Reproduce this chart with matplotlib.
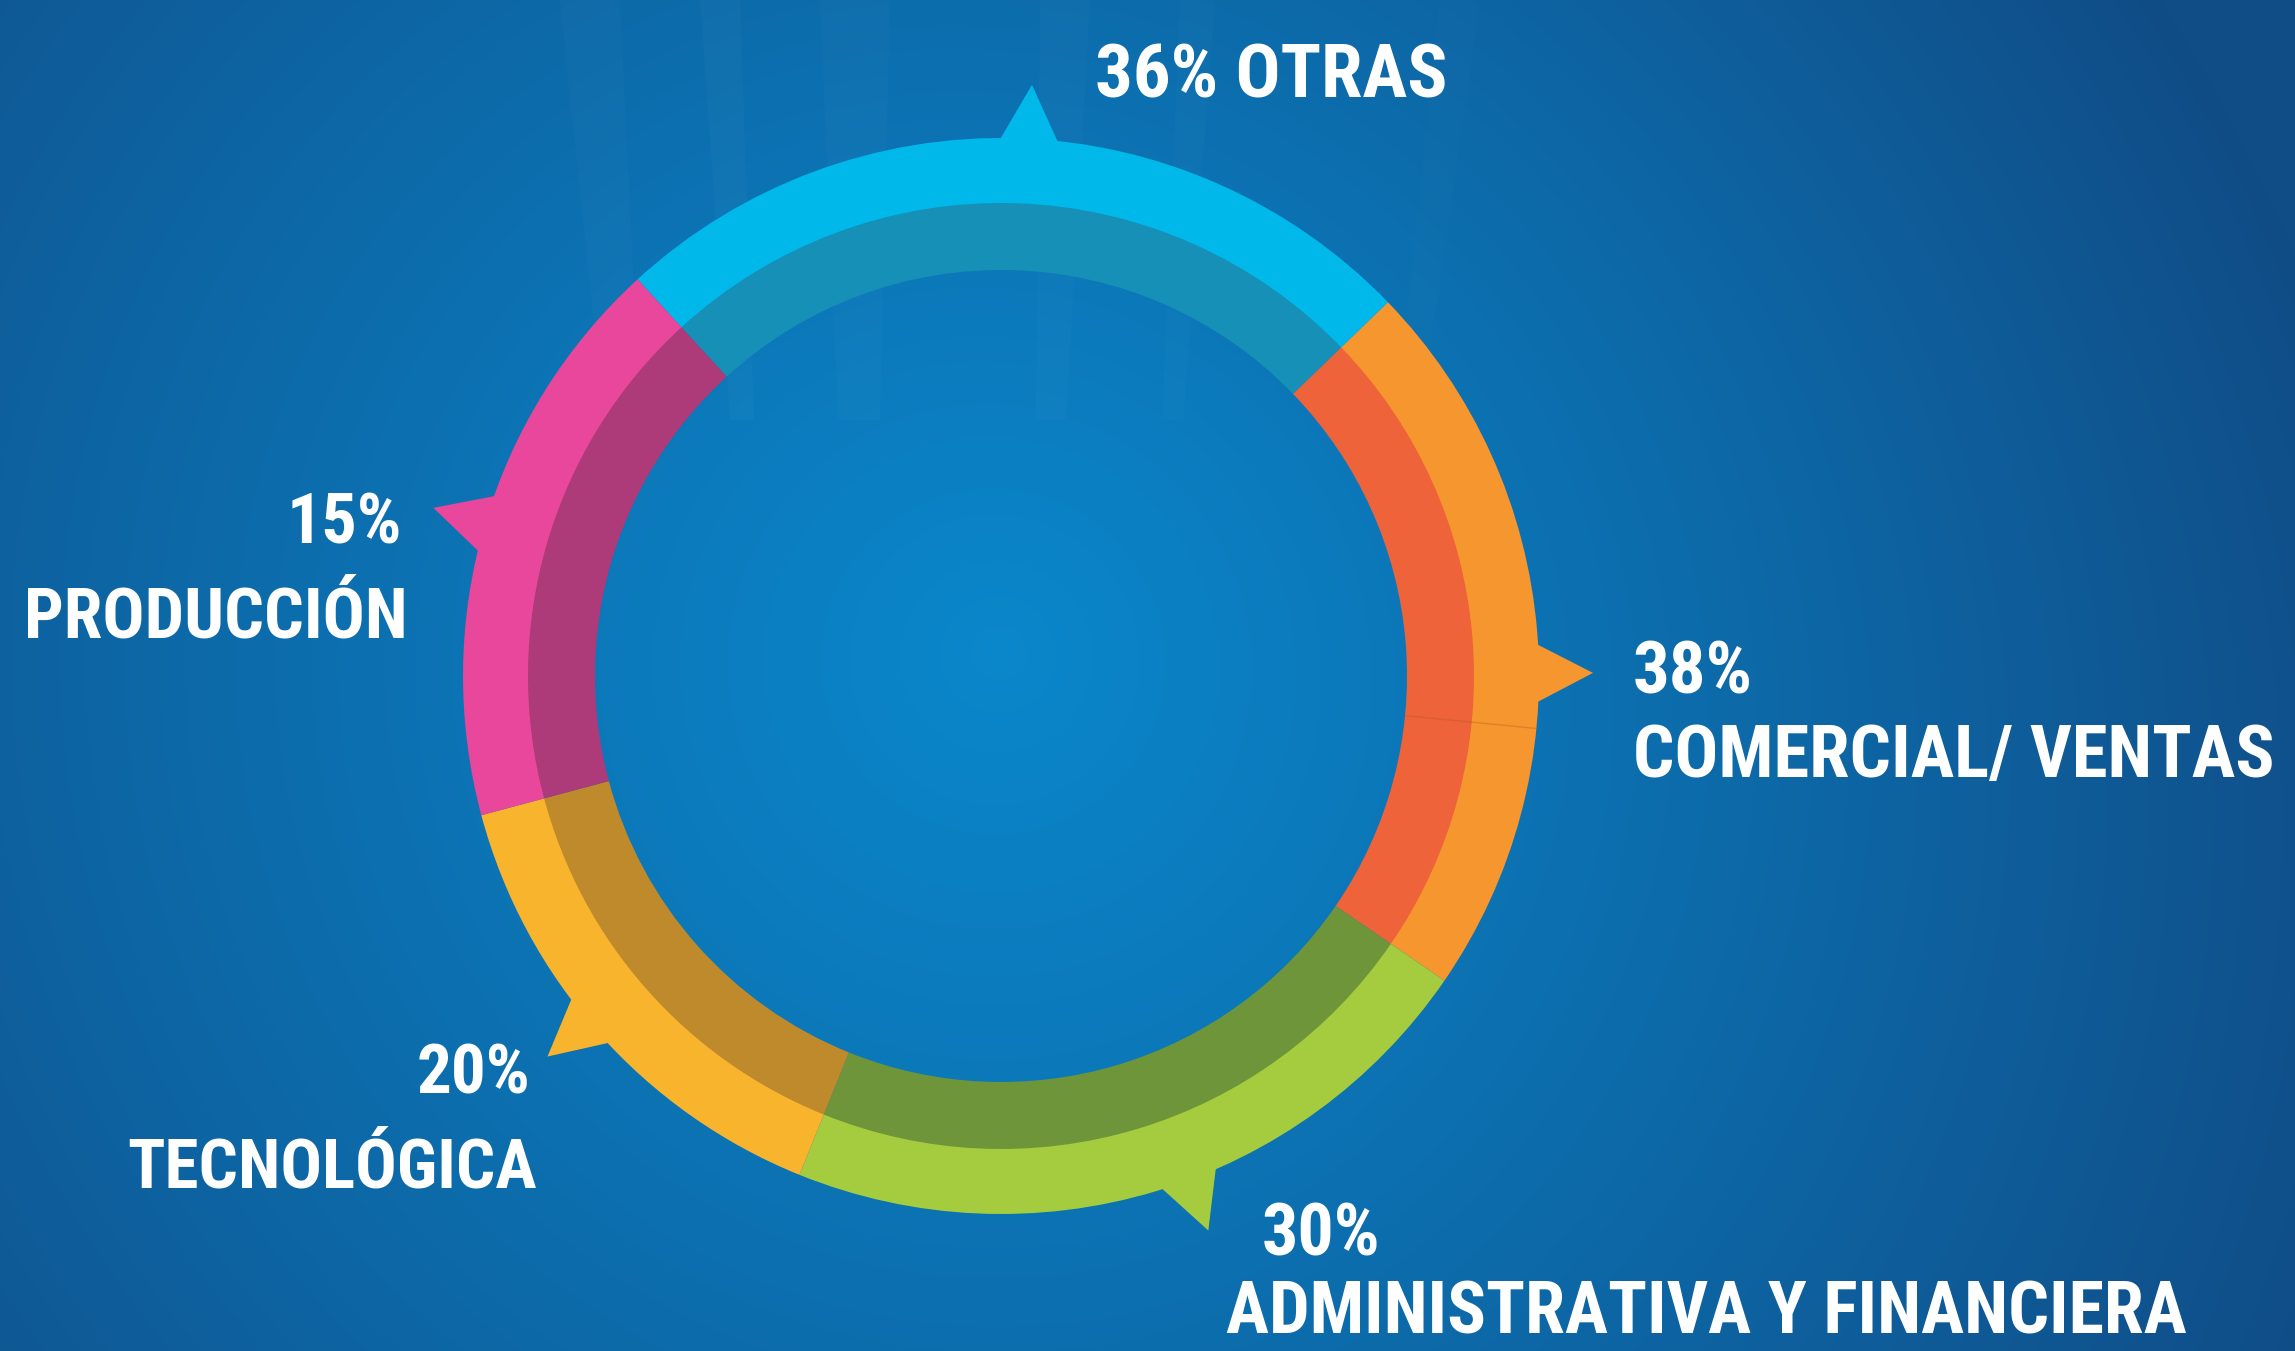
import os
import numpy as np
import matplotlib
matplotlib.use("Agg")
import matplotlib.pyplot as plt
from matplotlib.patches import Wedge, Polygon
from matplotlib import font_manager as fm

# --- data ---
categories = ["OTRAS", "COMERCIAL/ VENTAS", "ADMINISTRATIVA Y FINANCIERA",
              "TECNOLÓGICA", "PRODUCCIÓN"]
percents = [36, 38, 30, 20, 15]
# segment edges (deg, counter-clockwise from east), going clockwise round the ring
edges = [132.5, 44, -34.5, -112, -165, -227.5]
pointer_angles = [87, 0.3, -69.5, 220, 163.5]
outer_colors = ["#00b9ea", "#f6962f", "#a5cc3f", "#f9b42e", "#e8479b"]
inner_colors = ["#1690b6", "#ee6339", "#6f953a", "#bf8a2b", "#ad3a79"]

W, H = 2295, 1351
cx, cy = 1001, H - 676
r_out, r_mid, r_in = 538, 472, 406


def pick_font():
    # look for a narrow / condensed bold face, the reference uses a tall condensed type
    files = [f.fname for f in fm.fontManager.ttflist]
    low = {os.path.basename(p).lower(): p for p in files}
    for key in ["liberationsansnarrow-bold.ttf", "robotocondensed-bold.ttf",
                "dejavusanscondensed-bold.ttf", "opensans_condensed-bold.ttf"]:
        if key in low:
            return low[key]
    for name, p in low.items():
        if ("condensed" in name or "narrow" in name) and "bold" in name \
                and "italic" not in name and "oblique" not in name:
            return p
    for key in ["roboto-bold.ttf", "liberationsans-bold.ttf"]:
        if key in low:
            return low[key]
    return None


font_file = pick_font()

fig = plt.figure(figsize=(W / 100, H / 100), dpi=100)
ax = fig.add_axes([0, 0, 1, 1])
ax.set_xlim(0, W)
ax.set_ylim(0, H)
ax.set_aspect("equal")
ax.axis("off")

# background: blue radial glow, darker toward bottom right
yy, xx = np.mgrid[0:H, 0:W]
d = np.hypot(xx - 1000, (H - yy) - 700) / 1500
d = np.clip(d + 0.12 * (xx / W) * (1 - yy / H), 0, 1)
c0 = np.array([0x0a, 0x88, 0xcc]) / 255
c1 = np.array([0x10, 0x4c, 0x86]) / 255
t = d[..., None] ** 1.1
bg = c0 * (1 - t) + c1 * t
ax.imshow(bg, extent=[0, W, 0, H], origin="upper", zorder=0)

# very faint light streaks above the ring
for x0, w, a in [(560, 60, 0.02), (700, 40, 0.025), (820, 70, 0.018),
                 (1040, 50, 0.02), (1180, 35, 0.015), (1440, 40, 0.012)]:
    ax.add_patch(Polygon([(x0, H), (x0 + w, H), (x0 + w * 0.6 + (cx - x0) * 0.1, H - 420),
                          (x0 + (cx - x0) * 0.1, H - 420)],
                         closed=True, color="white", alpha=a, lw=0, zorder=1))

# ring segments
for i in range(len(categories)):
    a1, a2 = edges[i + 1], edges[i]
    ax.add_patch(Wedge((cx, cy), r_out, a1, a2, width=r_out - r_mid,
                       color=outer_colors[i], lw=0, zorder=3))
    ax.add_patch(Wedge((cx, cy), r_mid + 1, a1, a2, width=r_mid + 1 - r_in,
                       color=inner_colors[i], lw=0, zorder=3))

    # little pointer on the outer edge
    pa = np.radians(pointer_angles[i])
    half = np.radians(3.4)
    pts = [(cx + (r_out - 6) * np.cos(pa - half), cy + (r_out - 6) * np.sin(pa - half)),
           (cx + 592 * np.cos(pa), cy + 592 * np.sin(pa)),
           (cx + (r_out - 6) * np.cos(pa + half), cy + (r_out - 6) * np.sin(pa + half))]
    ax.add_patch(Polygon(pts, closed=True, color=outer_colors[i], lw=0, zorder=3))

# faint seam across the orange band
sa = np.radians(-5.6)
ax.plot([cx + r_in * np.cos(sa), cx + r_out * np.cos(sa)],
        [cy + r_in * np.sin(sa), cy + r_out * np.sin(sa)],
        color="#b05a20", lw=1.0, alpha=0.35, zorder=4)

# labels
if font_file:
    fp = fm.FontProperties(fname=font_file)
else:
    fp = fm.FontProperties(family="DejaVu Sans", weight="bold", stretch="condensed")
txt = dict(color="white", fontproperties=fp, va="baseline", zorder=5)

# (text, x, ha, width in the reference, baseline y) in picture pixels
name_specs = [
    (f"{percents[0]}% {categories[0]}", 1095, "left", 364, 97),
    (categories[1], 1633, "left", 641, 777),
    (categories[2], 1226, "left", 960, 1333),
    (categories[3], 537, "right", 408, 1188),
    (categories[4], 408, "right", 383, 637),
]
# (x, ha, baseline y) of the percentage line above each name
pct_specs = [None, (1633, "left", 694), (1262, "left", 1256),
             (530, "right", 1094), (402, "right", 544)]

renderer = fig.canvas.get_renderer()
fits = []
for s, x, ha, tw, base in name_specs:
    probe = ax.text(0, 0, s, fontsize=100, **txt)
    w = probe.get_window_extent(renderer).width
    probe.remove()
    fits.append(100 * tw / w)
med = float(np.median(fits))

for i, (s, x, ha, tw, base) in enumerate(name_specs):
    fs = float(np.clip(fits[i], 0.96 * med, 1.04 * med))
    fs = min(fs, fits[i] * 1.01)
    ax.text(x, H - base, s, ha=ha, fontsize=fs, **txt)
    if pct_specs[i] is not None:
        px, pha, pb = pct_specs[i]
        ax.text(px, H - pb, f"{percents[i]}%", ha=pha, fontsize=fs, **txt)

fig.savefig("out.png", dpi=100)
